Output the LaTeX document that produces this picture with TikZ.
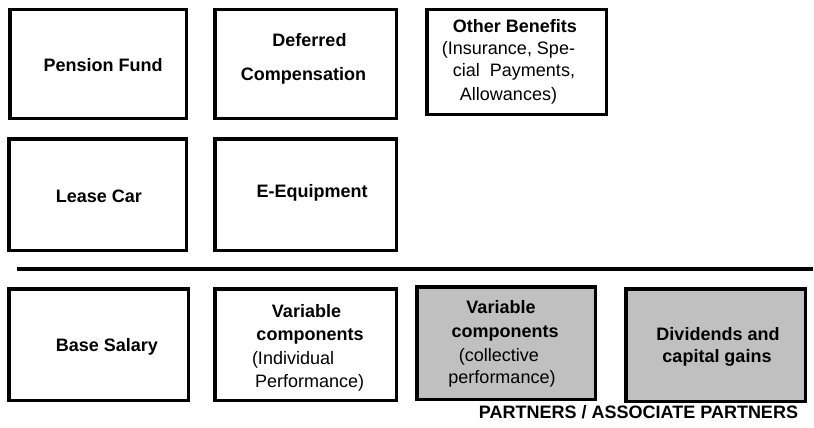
\documentclass[tikz,border=0pt]{standalone}
\usepackage{fontspec}
\setmainfont{Liberation Sans}
\definecolor{boxgray}{HTML}{C0C0C0}
\tikzset{
  box/.style={draw=black, line width=3.5pt, fill=white, inner sep=0pt, outer sep=0pt},
  graybox/.style={box, fill=boxgray},
  lbl/.style={inner sep=0pt, outer sep=0pt, font=\fontsize{18}{21}\selectfont\bfseries, anchor=base},
  sub/.style={inner sep=0pt, outer sep=0pt, font=\fontsize{18}{21}\selectfont, anchor=base},
}
\begin{document}
\begin{tikzpicture}[x=1pt, y=-1pt]
\useasboundingbox (0,0) rectangle (814,428);
% row 1
\node[box, minimum width=176.5pt, minimum height=108.5pt] (pension) at (98,64) {};
\node[box, minimum width=181.5pt, minimum height=108.5pt] (deferred) at (305.5,64) {};
\node[box, minimum width=179.5pt, minimum height=104.5pt] (other) at (516.5,62) {};
% row 2
\node[box, minimum width=177.5pt, minimum height=111.5pt] (lease) at (97.5,194.5) {};
\node[box, minimum width=181.5pt, minimum height=111.5pt] (equip) at (305.5,194.5) {};
% separator
\coordinate (sepL) at (17,269);
\coordinate (sepR) at (813,269);
\draw[line width=3.5pt] (sepL) -- (sepR);
% row 3
\node[box, minimum width=179.5pt, minimum height=111.5pt] (base) at (98.5,344.5) {};
\node[box, minimum width=181.5pt, minimum height=111.5pt] (varind) at (305.5,344.5) {};
\node[graybox, minimum width=178.5pt, minimum height=112.5pt] (varcol) at (506,343) {};
\node[graybox, minimum width=179.5pt, minimum height=112.5pt] (divid) at (715.5,345) {};
% texts
\node[lbl] (tpension) at (103,72) {Pension Fund};
\node[lbl] (tdef1) at (309.5,47) {Deferred};
\node[lbl] (tdef2) at (303.5,81) {Compensation};
\node[lbl] (toth1) at (515,33) {Other Benefits};
\node[sub] (toth2) at (508.5,55) {(Insurance, Spe-};
\node[sub] (toth3) at (514,77) {cial\ \ Payments,};
\node[sub] (toth4) at (508.5,100) {Allowances)};
\node[lbl] (tlease) at (99,202) {Lease Car};
\node[lbl] (tequip) at (312,197) {E-Equipment};
\node[lbl] (tbase) at (107,351) {Base Salary};
\node[lbl] (tvi1) at (306.5,317) {Variable};
\node[lbl] (tvi2) at (310,340) {components};
\node[sub, anchor=base west] (tvi3) at (252,364) {(Individual};
\node[sub, anchor=base west] (tvi4) at (255,387) {Performance)};
\node[lbl] (tvc1) at (501,313) {Variable};
\node[lbl] (tvc2) at (505,337) {components};
\node[sub] (tvc3) at (499,361) {(collective};
\node[sub] (tvc4) at (502,383) {performance)};
\node[lbl] (tdiv1) at (718,340) {Dividends and};
\node[lbl] (tdiv2) at (717,362) {capital gains};
\node[lbl] (tpartners) at (638.5,418) {PARTNERS / ASSOCIATE PARTNERS};
\end{tikzpicture}
\end{document}
